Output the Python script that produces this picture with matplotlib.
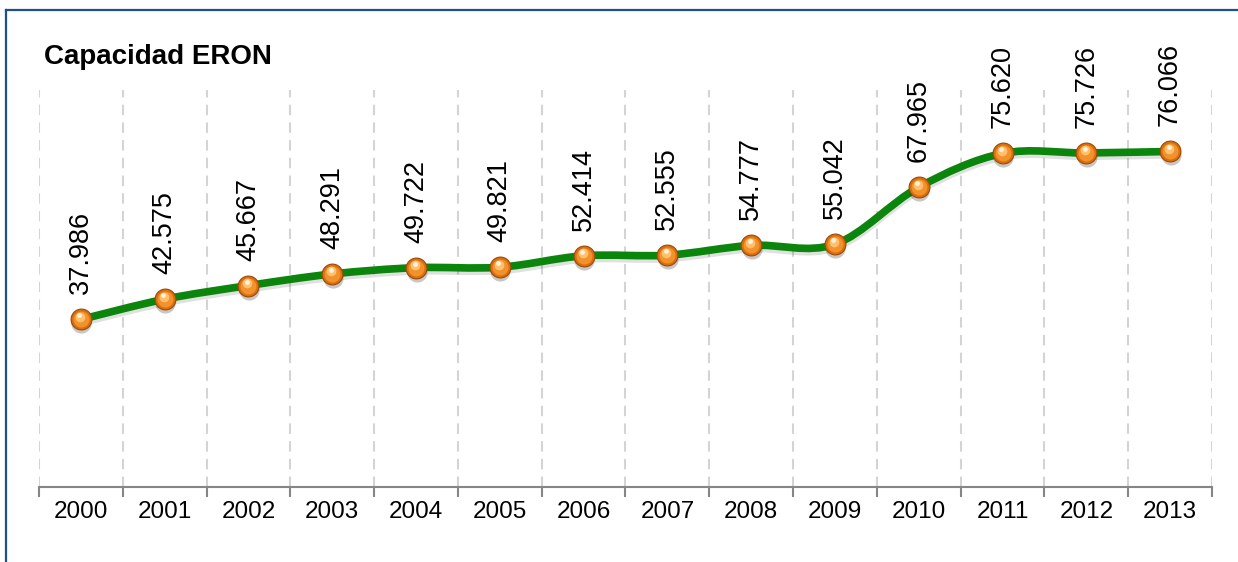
import matplotlib
matplotlib.use('Agg')
import matplotlib.pyplot as plt
from matplotlib.path import Path
from matplotlib.patches import PathPatch
from matplotlib.lines import Line2D
import matplotlib.transforms as mtransforms

plt.rcParams['font.family'] = ['Liberation Sans', 'DejaVu Sans']

years = ['2000', '2001', '2002', '2003', '2004', '2005', '2006',
         '2007', '2008', '2009', '2010', '2011', '2012', '2013']
values = [37.986, 42.575, 45.667, 48.291, 49.722, 49.821, 52.414,
          52.555, 54.777, 55.042, 67.965, 75.620, 75.726, 76.066]
value_labels = ['37.986', '42.575', '45.667', '48.291', '49.722', '49.821', '52.414',
                '52.555', '54.777', '55.042', '67.965', '75.620', '75.726', '76.066']
title = 'Capacidad ERON'

W, H = 1238, 562
fig = plt.figure(figsize=(W / 100, H / 100), dpi=100)
ax = fig.add_axes([39 / W, 1 - 487 / H, (1212 - 39) / W, (487 - 90) / H])

n = len(values)
xs = list(range(n))
ax.set_xlim(-0.5, n - 0.5)
ax.set_ylim(0, 90)

# vertical dashed gridlines at category boundaries
for b in [i - 0.5 for i in range(n + 1)]:
    ax.axvline(b, color='#d4d4d4', lw=1.5, ls=(0, (5, 3.5)), zorder=0)

# smooth curve (Catmull-Rom -> cubic Bezier)
pts = list(zip(xs, values))
verts = [pts[0]]
codes = [Path.MOVETO]
t = 1.0
for i in range(n - 1):
    p0 = pts[i - 1] if i > 0 else pts[i]
    p1 = pts[i]
    p2 = pts[i + 1]
    p3 = pts[i + 2] if i + 2 < n else pts[i + 1]
    c1 = (p1[0] + (p2[0] - p0[0]) / 6 * t, p1[1] + (p2[1] - p0[1]) / 6 * t)
    c2 = (p2[0] - (p3[0] - p1[0]) / 6 * t, p2[1] - (p3[1] - p1[1]) / 6 * t)
    verts += [c1, c2, p2]
    codes += [Path.CURVE4] * 3
path = Path(verts, codes)

shadow_tr = ax.transData + mtransforms.ScaledTranslation(0, -3 / 100, fig.dpi_scale_trans)
ax.add_patch(PathPatch(path, fill=False, edgecolor='#000000', alpha=0.12, lw=6,
                       transform=shadow_tr, zorder=2, capstyle='round'))
ax.add_patch(PathPatch(path, fill=False, edgecolor='#0b850b', lw=5.5, zorder=3,
                       capstyle='round', joinstyle='round'))

# sphere-like markers
mshadow_tr = ax.transData + mtransforms.ScaledTranslation(0.5 / 100, -4 / 100, fig.dpi_scale_trans)
ax.plot(xs, values, 'o', ms=14.5, color='#000000', alpha=0.22, mew=0,
        transform=mshadow_tr, zorder=4)
ax.plot(xs, values, 'o', ms=15, mfc='#d96f0e', mec='#9c4a08', mew=0.8, zorder=5)
ax.plot(xs, values, 'o', ms=11.5, mfc='#f3922a', mew=0, zorder=6)
hl_tr = ax.transData + mtransforms.ScaledTranslation(-1 / 100, 2.5 / 100, fig.dpi_scale_trans)
ax.plot(xs, values, 'o', ms=7, mfc='#ffc070', mew=0, transform=hl_tr, zorder=7)
hl_tr2 = ax.transData + mtransforms.ScaledTranslation(-1.5 / 100, 4 / 100, fig.dpi_scale_trans)
ax.plot(xs, values, 'o', ms=3.5, mfc='#fff0d8', mew=0, transform=hl_tr2, zorder=8)

# data labels
for x, v, lab in zip(xs, values, value_labels):
    ax.annotate(lab, (x, v), xytext=(0, 18), textcoords='offset points',
                rotation=90, ha='center', va='bottom', fontsize=19.5, color='#000000',
                zorder=9)

# axes styling
for s in ['top', 'right', 'left']:
    ax.spines[s].set_visible(False)
ax.spines['bottom'].set_color('#868686')
ax.spines['bottom'].set_linewidth(1.5)
ax.set_yticks([])
ax.set_xticks([i - 0.5 for i in range(n + 1)])
ax.set_xticklabels([])
ax.set_xticks(xs, minor=True)
ax.set_xticklabels(years, minor=True, fontsize=17.5)
ax.tick_params(axis='x', which='major', length=7, width=1.5, color='#868686', direction='out')
ax.tick_params(axis='x', which='minor', length=0, pad=10)

# title
fig.text(44 / W, 1 - 57 / H, title, fontsize=20, fontweight='bold', ha='left', va='center')

# frame border (top and left)
fig.add_artist(Line2D([6 / W, 1], [1 - 10 / H, 1 - 10 / H], color='#1f4e8c', lw=1.6))
fig.add_artist(Line2D([6 / W, 6 / W], [0, 1 - 10 / H], color='#1f4e8c', lw=1.6))

fig.savefig('out.png', dpi=100)
